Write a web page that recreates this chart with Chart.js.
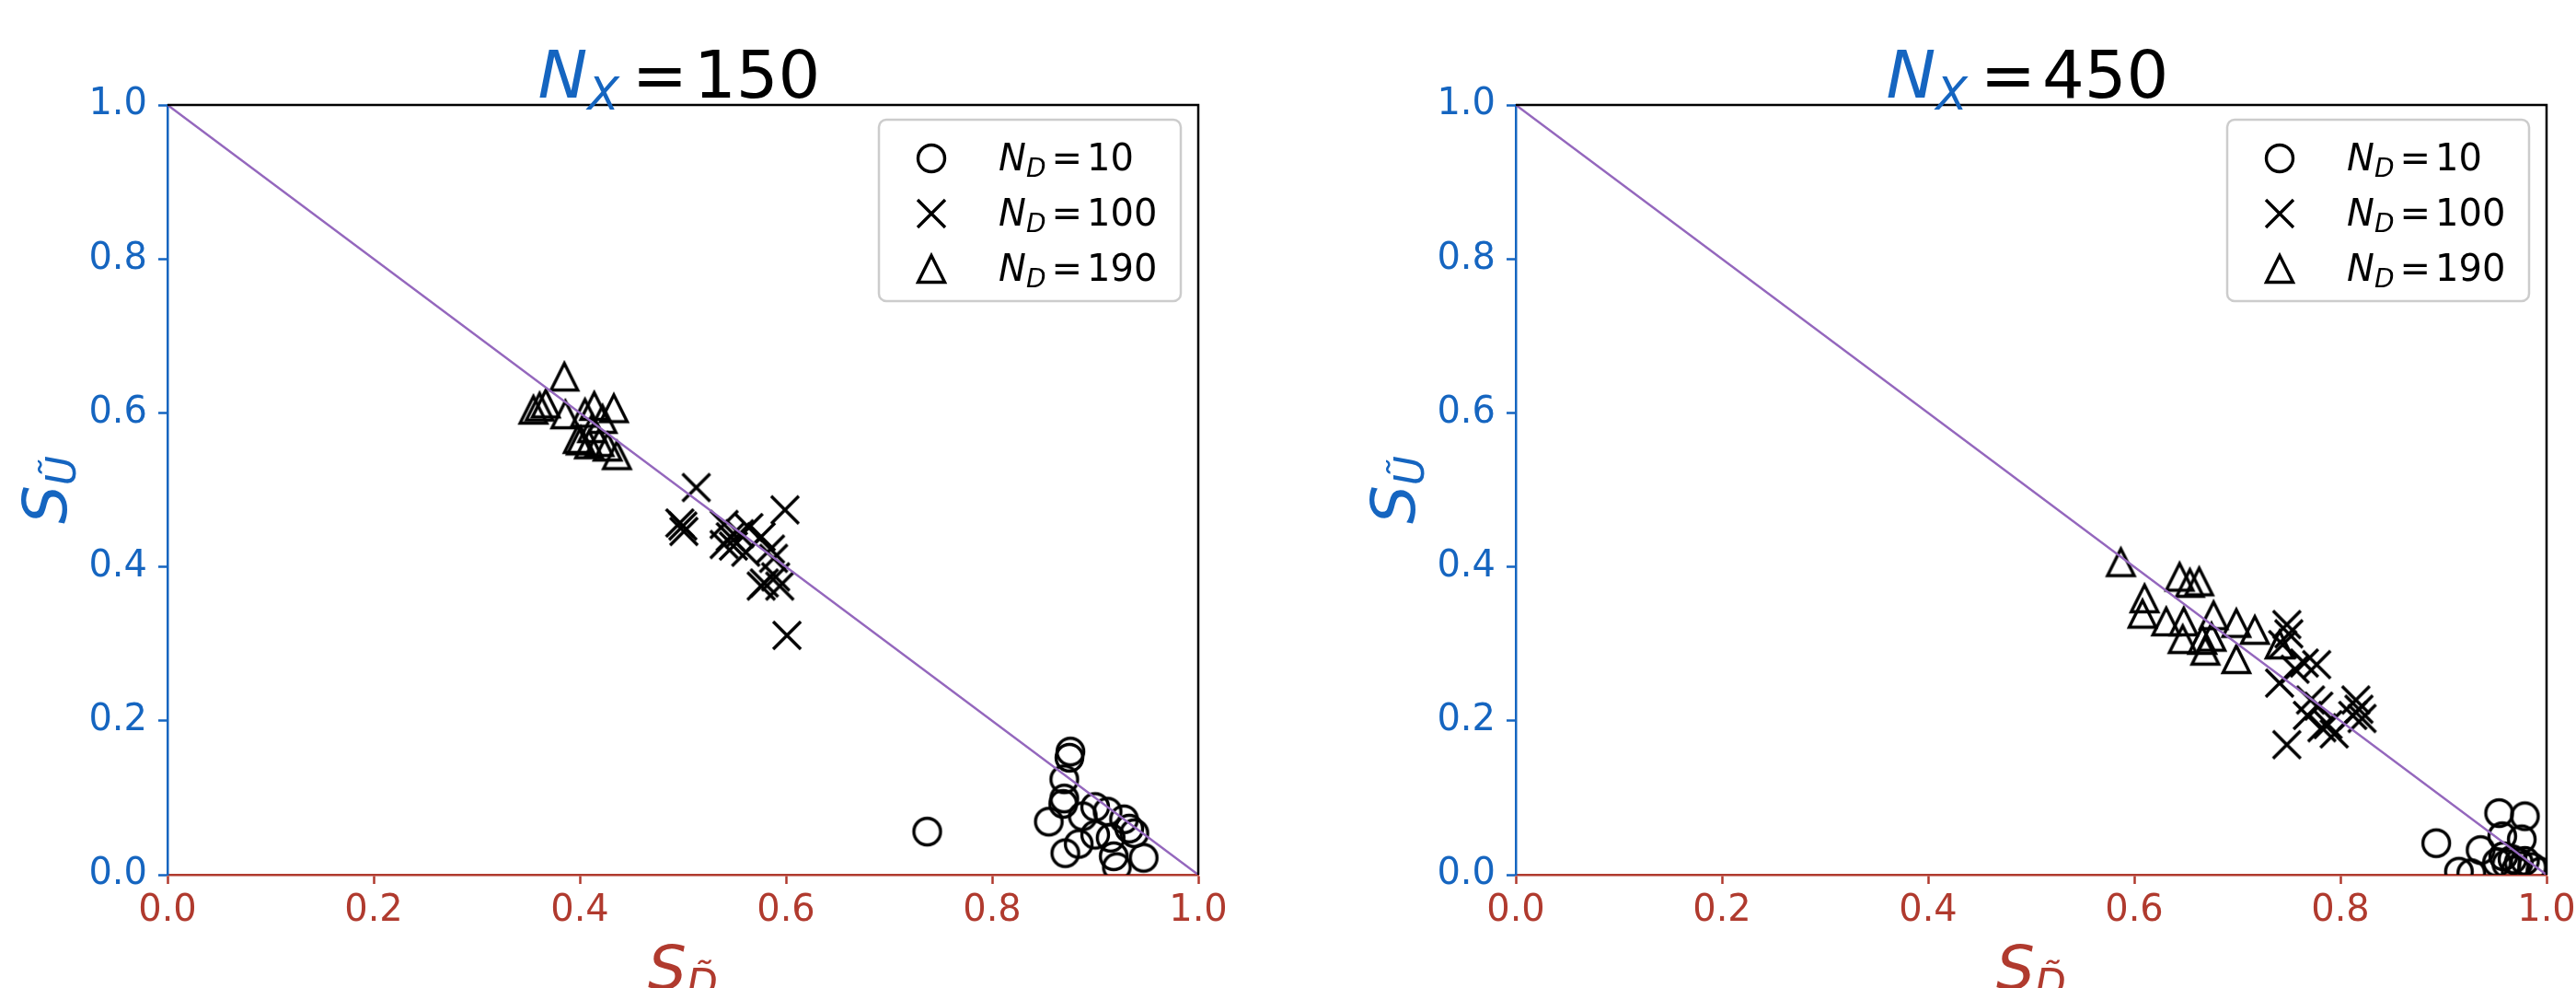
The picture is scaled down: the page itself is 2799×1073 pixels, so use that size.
<!DOCTYPE html>
<html>
<head>
<meta charset="utf-8">
<script src="https://cdn.jsdelivr.net/npm/chart.js@4.4.1/dist/chart.umd.min.js"></script>
<style>
    html, body { margin: 0; padding: 0; background: #fff; overflow: hidden; }
    #wrap { position: relative; width: 2799px; height: 1073px; overflow: hidden; }
    .box { position: absolute; top: 0; height: 1073px; }
    #left { left: 0; width: 1400px; }
    #right { left: 1400px; width: 1440px; }
</style>
</head>
<body>
<div id="wrap">
    <div class="box" id="left"><canvas id="c1"></canvas></div>
    <div class="box" id="right"><canvas id="c2"></canvas></div>
</div>
<script>
// Ticks and labels
const xTicks = [0, 0.2, 0.4, 0.6, 0.8, 1.0];
const yTicks = [0, 0.2, 0.4, 0.6, 0.8, 1.0];
const ndLabels = ['10', '100', '190'];
const nxLabels = ['150', '450'];

// N_X = 150
const nx150_nd10_x = [0.737, 0.876, 0.875, 0.870, 0.870, 0.869, 0.855, 0.888, 0.900, 0.912, 0.928, 0.933, 0.938, 0.900, 0.915, 0.884, 0.871, 0.918, 0.921, 0.947];
const nx150_nd10_y = [0.056, 0.160, 0.152, 0.124, 0.099, 0.092, 0.069, 0.076, 0.088, 0.082, 0.072, 0.060, 0.054, 0.052, 0.048, 0.040, 0.028, 0.024, 0.010, 0.022];
const nx150_nd100_x = [0.513, 0.500, 0.497, 0.501, 0.599, 0.540, 0.546, 0.540, 0.555, 0.564, 0.549, 0.576, 0.585, 0.588, 0.579, 0.576, 0.594, 0.590, 0.601, 0.561];
const nx150_nd100_y = [0.503, 0.453, 0.457, 0.446, 0.474, 0.455, 0.439, 0.429, 0.443, 0.451, 0.427, 0.439, 0.423, 0.411, 0.379, 0.375, 0.375, 0.387, 0.311, 0.419];
const nx150_nd190_x = [0.385, 0.355, 0.361, 0.367, 0.386, 0.414, 0.433, 0.405, 0.422, 0.401, 0.409, 0.419, 0.436, 0.427, 0.412, 0.398];
const nx150_nd190_y = [0.647, 0.604, 0.608, 0.612, 0.598, 0.609, 0.606, 0.600, 0.592, 0.564, 0.559, 0.562, 0.545, 0.556, 0.580, 0.566];

// N_X = 450
const nx450_nd10_x = [0.893, 0.954, 0.979, 0.936, 0.957, 0.976, 0.915, 0.927, 0.958, 0.967, 0.973, 0.961, 0.979, 0.970, 0.986, 0.952, 0.994];
const nx450_nd10_y = [0.041, 0.080, 0.076, 0.032, 0.050, 0.046, 0.004, 0.002, 0.024, 0.020, 0.016, 0.014, 0.018, 0.006, 0.010, 0.016, 0.004];
const nx450_nd100_x = [0.748, 0.750, 0.744, 0.777, 0.765, 0.741, 0.756, 0.771, 0.779, 0.768, 0.788, 0.794, 0.815, 0.818, 0.812, 0.821, 0.748, 0.782];
const nx450_nd100_y = [0.325, 0.313, 0.299, 0.273, 0.275, 0.249, 0.267, 0.227, 0.219, 0.207, 0.195, 0.183, 0.227, 0.215, 0.207, 0.203, 0.169, 0.191];
const nx450_nd190_x = [0.587, 0.610, 0.608, 0.644, 0.654, 0.663, 0.631, 0.648, 0.677, 0.699, 0.717, 0.647, 0.666, 0.669, 0.699, 0.741, 0.675];
const nx450_nd190_y = [0.406, 0.359, 0.339, 0.387, 0.379, 0.381, 0.329, 0.329, 0.337, 0.327, 0.318, 0.306, 0.305, 0.291, 0.280, 0.299, 0.309];

const BLUE = '#1565c0';
const RED = '#b03a2e';
const PURPLE = '#9467bd';
const FONT = "'DejaVu Sans'";

// marcadores tipo matplotlib (huecos)
function markerImg(kind) {
    const c = document.createElement('canvas');
    c.width = 44; c.height = 44;
    const g = c.getContext('2d');
    g.strokeStyle = '#000';
    g.lineWidth = 3.4;
    g.beginPath();
    if (kind === 'o') {
        g.arc(22, 22, 14.5, 0, Math.PI * 2);
    } else if (kind === 'x') {
        g.moveTo(7, 7); g.lineTo(37, 37);
        g.moveTo(37, 7); g.lineTo(7, 37);
    } else {
        g.moveTo(22, 7.5); g.lineTo(7.5, 36.5); g.lineTo(36.5, 36.5); g.closePath();
    }
    g.stroke();
    return c;
}
const markers = [markerImg('o'), markerImg('x'), markerImg('^')];

// texto con partes (cursiva, subindice), g = espacio extra antes
function drawRich(ctx, parts, x, y, align) {
    let w = 0;
    parts.forEach(p => { ctx.font = p.f; p.w = ctx.measureText(p.t).width; w += p.w + (p.g || 0); });
    let cx = align === 'center' ? x - w / 2 : x;
    ctx.textAlign = 'left';
    ctx.textBaseline = 'alphabetic';
    parts.forEach(p => {
        cx += (p.g || 0);
        ctx.font = p.f;
        ctx.fillStyle = p.c;
        ctx.fillText(p.t, cx, y + (p.dy || 0));
        cx += p.w;
    });
}

const panel = {
    id: 'panel',
    afterDraw(chart, args, o) {
        const ctx = chart.ctx;
        const a = chart.chartArea;
        ctx.save();

        // bordes superior y derecho
        ctx.strokeStyle = '#000';
        ctx.lineWidth = 2.5;
        ctx.beginPath();
        ctx.moveTo(a.left, a.top);
        ctx.lineTo(a.right, a.top);
        ctx.lineTo(a.right, a.bottom);
        ctx.stroke();

        // titulo
        const mid = (a.left + a.right) / 2;
        drawRich(ctx, [
            { t: 'N', f: 'italic 72px ' + FONT, c: BLUE },
            { t: 'X', f: 'italic 50px ' + FONT, c: BLUE, dy: 13 },
            { t: '=', f: '72px ' + FONT, c: '#000', g: 14 },
            { t: o.nx, f: '72px ' + FONT, c: '#000', g: 7 }
        ], mid - 4, 106, 'center');

        // leyenda
        const lw = 328, lh = 197, r = 8;
        const lx = a.right - 19 - lw, ly = a.top + 16;
        ctx.beginPath();
        ctx.moveTo(lx + r, ly);
        ctx.arcTo(lx + lw, ly, lx + lw, ly + lh, r);
        ctx.arcTo(lx + lw, ly + lh, lx, ly + lh, r);
        ctx.arcTo(lx, ly + lh, lx, ly, r);
        ctx.arcTo(lx, ly, lx + lw, ly, r);
        ctx.closePath();
        ctx.fillStyle = 'rgba(255,255,255,0.8)';
        ctx.fill();
        ctx.strokeStyle = '#cccccc';
        ctx.lineWidth = 2.5;
        ctx.stroke();
        ndLabels.forEach((lab, i) => {
            const cy = ly + 42 + i * 60;
            ctx.drawImage(markers[i], lx + 57 - 22, cy - 22);
            drawRich(ctx, [
                { t: 'N', f: 'italic 40px ' + FONT, c: '#000' },
                { t: 'D', f: 'italic 28px ' + FONT, c: '#000', dy: 7 },
                { t: '=', f: '40px ' + FONT, c: '#000', g: 6 },
                { t: lab, f: '40px ' + FONT, c: '#000', g: 5 }
            ], lx + 130, cy + 13, 'left');
        });

        // etiqueta eje y (rotada)
        ctx.save();
        ctx.translate(a.left - 110, (a.top + a.bottom) / 2);
        ctx.rotate(-Math.PI / 2);
        drawRich(ctx, [
            { t: 'S', f: 'italic 66px ' + FONT, c: BLUE },
            { t: '\u0168', f: 'italic 44px ' + FONT, c: BLUE, dy: 10 }
        ], 0, 0, 'center');
        ctx.restore();

        // etiqueta eje x
        drawRich(ctx, [
            { t: 'S', f: 'italic 66px ' + FONT, c: RED },
            { t: 'D\u0303', f: 'italic 44px ' + FONT, c: RED, dy: 10 }
        ], mid, a.bottom + 124, 'center');

        ctx.restore();
    }
};

function axisOpts(color, ticks, horiz) {
    return {
        type: 'linear',
        min: 0,
        max: 1,
        afterBuildTicks: s => { s.ticks = ticks.map(v => ({ value: v })); },
        afterFit: s => { if (horiz) { s.height = 123; } else { s.width = 182; } },
        ticks: {
            color: color,
            autoSkip: false,
            maxRotation: 0,
            font: { family: FONT, size: 40 },
            padding: horiz ? 6 : 12,
            callback: v => v.toFixed(1)
        },
        grid: {
            drawOnChartArea: false,
            drawTicks: true,
            tickLength: 10,
            tickWidth: 2.5,
            tickColor: color,
            color: color
        },
        border: { display: true, color: color, width: 2.5 }
    };
}

function buildChart(id, nx, series, padL, padR) {
    const ctx = document.getElementById(id).getContext('2d');
    const datasets = [{
        data: [{ x: 0, y: 1 }, { x: 1, y: 0 }],
        showLine: true,
        borderColor: PURPLE,
        borderWidth: 2.5,
        pointRadius: 0,
        order: 0
    }];
    series.forEach((s, i) => {
        datasets.push({
            label: 'N_D = ' + ndLabels[i],
            data: s[0].map((v, j) => ({ x: v, y: s[1][j] })),
            pointStyle: markers[i],
            pointRadius: 16,
            showLine: false,
            clip: 0,
            order: 1
        });
    });
    return new Chart(ctx, {
        type: 'scatter',
        data: { datasets: datasets },
        options: {
            responsive: true,
            maintainAspectRatio: false,
            animation: false,
            layout: { padding: { top: 114, left: padL, right: padR, bottom: 0 } },
            plugins: {
                legend: { display: false },
                tooltip: { enabled: false },
                panel: { nx: nx }
            },
            scales: {
                x: axisOpts(RED, xTicks, true),
                y: axisOpts(BLUE, yTicks, false)
            }
        },
        plugins: [panel]
    });
}

buildChart('c1', nxLabels[0], [
    [nx150_nd10_x, nx150_nd10_y],
    [nx150_nd100_x, nx150_nd100_y],
    [nx150_nd190_x, nx150_nd190_y]
], 0, 98);

buildChart('c2', nxLabels[1], [
    [nx450_nd10_x, nx450_nd10_y],
    [nx450_nd100_x, nx450_nd100_y],
    [nx450_nd190_x, nx450_nd190_y]
], 65, 73);
</script>
</body>
</html>
